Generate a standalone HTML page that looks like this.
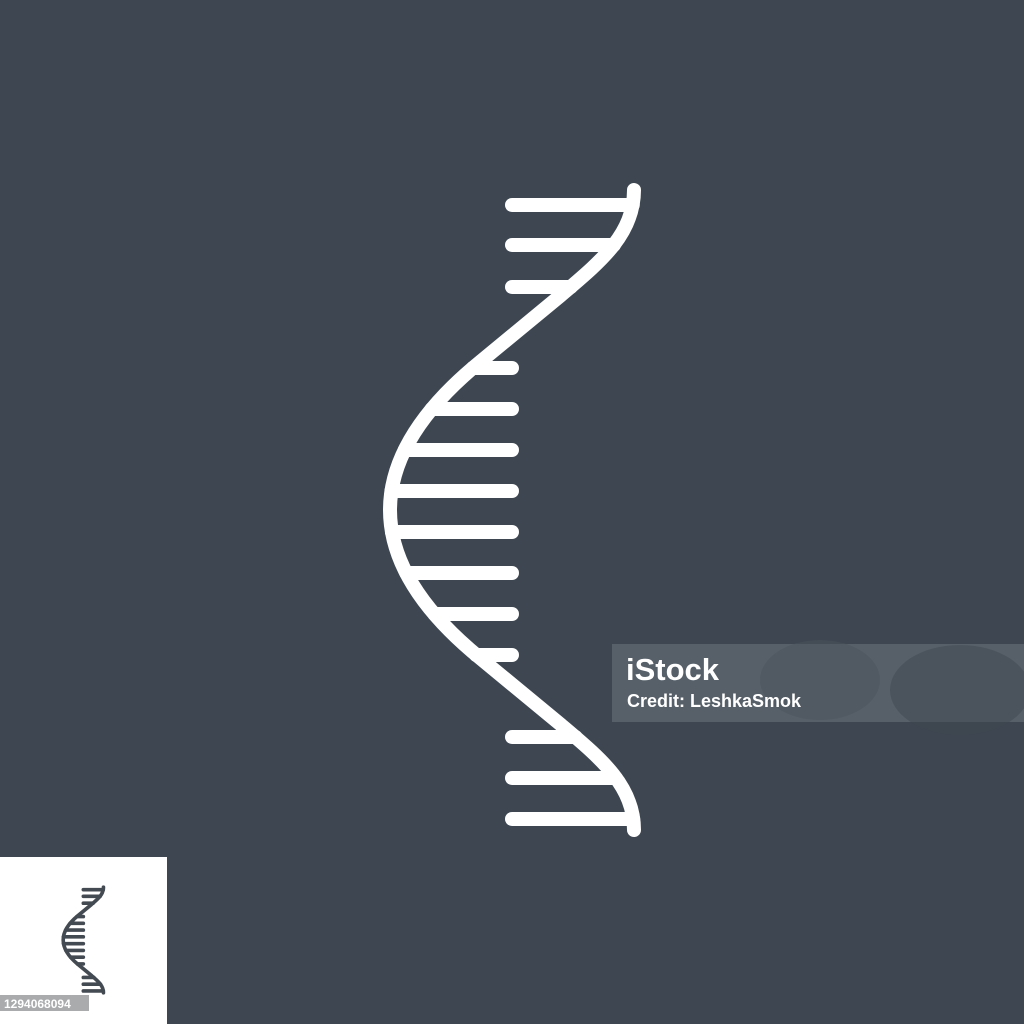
<!DOCTYPE html>
<html><head><meta charset="utf-8"><style>
html,body{margin:0;padding:0;width:1024px;height:1024px;overflow:hidden;background:#3d4651}
svg{display:block}
</style></head><body>
<svg width="1024" height="1024" viewBox="0 0 1024 1024">
<rect x="0" y="0" width="1024" height="1024" fill="#3d4651"/>
<g id="main" stroke="#ffffff"></g>
<g>
<rect x="612" y="644" width="412" height="78" fill="#576069"/>
<ellipse cx="820" cy="680" rx="60" ry="40" fill="#4b535c" opacity="0.5"/>
<ellipse cx="960" cy="690" rx="70" ry="45" fill="#3f474f" opacity="0.5"/>
<text x="626" y="680" fill="#ffffff" font-family="Liberation Sans, sans-serif" font-weight="bold" font-size="31">iStock</text>
<text x="627" y="707" fill="#ffffff" font-family="Liberation Sans, sans-serif" font-weight="bold" font-size="18">Credit: LeshkaSmok</text>
</g>
<g>
<rect x="0" y="857" width="167" height="167" fill="#ffffff"/>
<g id="thumb" stroke="#444a52" transform="translate(83,940) scale(0.165) translate(-510,-510)"></g>
<rect x="0" y="995" width="89" height="16" fill="#a9abad"/>
<text x="4" y="1008" fill="#ffffff" font-family="Liberation Sans, sans-serif" font-weight="bold" font-size="12">1294068094</text>
</g>
</svg>
<script>
const topRungs=[205,245,287];
const midRungs=[368,409,450,491,532,573,614,655];
const botRungs=[737,778,819];
const D='M634,190 C634,235 600,262 560,296 L480,362 C360,460 360,560 480,658 L560,724 C600,758 634,785 634,830';
function build(g,sw){
  const ns='http://www.w3.org/2000/svg';
  const p=document.createElementNS(ns,'path');
  p.setAttribute('d',D);
  p.setAttribute('fill','none');p.setAttribute('stroke-width',sw);p.setAttribute('stroke-linecap','round');
  
  
  g.appendChild(p);
  const L=p.getTotalLength();const pts=[];
  for(let i=0;i<=800;i++){pts.push(p.getPointAtLength(L*i/800));}
  const curveX=y=>{let best=pts[0];for(const q of pts){if(Math.abs(q.y-y)<Math.abs(best.y-y))best=q;}return best.x;};
  const add=(x1,x2,y)=>{const l=document.createElementNS(ns,'line');
    l.setAttribute('x1',x1);l.setAttribute('x2',x2);l.setAttribute('y1',y);l.setAttribute('y2',y);
    l.setAttribute('stroke-width',sw);l.setAttribute('stroke-linecap','round');
    
    
    g.appendChild(l);};
  topRungs.forEach(y=>add(512,curveX(y),y));
  midRungs.forEach(y=>add(curveX(y),512,y));
  botRungs.forEach(y=>add(512,curveX(y),y));
}
build(document.getElementById('main'),14);
build(document.getElementById('thumb'),22);
</script>
</body></html>
